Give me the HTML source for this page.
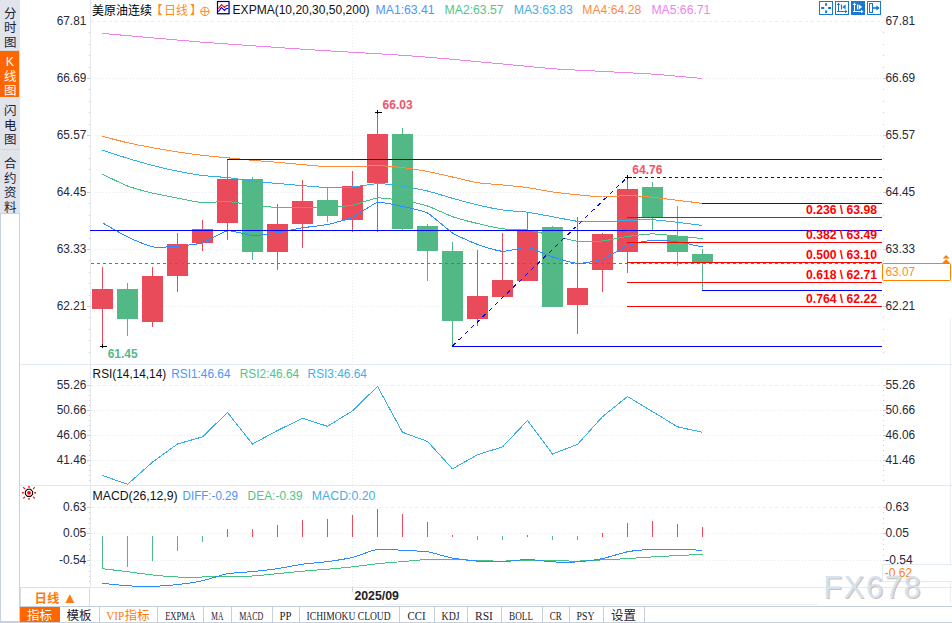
<!DOCTYPE html><html lang="zh"><head><meta charset="utf-8"><title>美原油连续 日线</title><style>
html,body{margin:0;padding:0;background:#fff}
body{width:952px;height:623px;position:relative;overflow:hidden;font-family:"Liberation Sans","Noto Sans CJK SC",sans-serif}
.sb{position:absolute;left:0;top:0;width:20px;height:213px;background:#e1e4eb}
.st{position:absolute;left:0;width:20px;font-size:12.5px;line-height:14.5px;color:#1b2234;text-align:center;box-sizing:border-box}
.st span{display:block;width:12px;margin-left:4px}
.st.on{background:#ff6600;color:#fff;width:19px}
.lb{position:absolute;left:0;top:213px;width:18px;height:407px;border:1px solid #c9d3df;background:#fff}
.tabs{position:absolute;left:20px;top:606px;height:15px;width:932px;border-top:1px solid #c5cfdb;border-bottom:1px solid #bcc4cf}
.tab{position:absolute;top:0;height:15px;border-right:1px solid #c5cfdb;font-size:12.5px;line-height:18px;text-align:center;color:#1b2234;box-sizing:border-box;white-space:nowrap;overflow:hidden}
.tab i{font-style:normal;font-size:11.5px;color:#1b2234;font-family:"Liberation Serif","Noto Sans CJK SC",serif;display:inline-block;transform-origin:center;position:relative;top:-0.5px}
.per{position:absolute;left:20px;top:587px;width:70px;height:19px;border:1px solid #d5dde7;border-bottom:none;box-sizing:border-box;background:#fff;color:#ff7a0a;font-weight:bold;font-size:12.4px;line-height:23px}

</style></head><body>
<svg width="952" height="623" viewBox="0 0 952 623" style="position:absolute;left:0;top:0">
<g shape-rendering="crispEdges">
<rect x="90" y="0" width="1" height="587" fill="#e4e9ef"/>
<rect x="950" y="318" width="1" height="285" fill="#e9eef4"/>
<rect x="20" y="364" width="932" height="1" fill="#e3e9f1"/>
<rect x="20" y="485" width="932" height="1" fill="#e3e9f1"/>
<rect x="20" y="587" width="932" height="1" fill="#e3e9f1"/>
<line x1="91" y1="21.5" x2="882" y2="21.5" stroke="#e9edf2" stroke-width="1" stroke-dasharray="3 3"/>
<line x1="91" y1="78.5" x2="882" y2="78.5" stroke="#e6eaf0" stroke-width="1" stroke-dasharray="1 2"/>
<line x1="91" y1="135.5" x2="882" y2="135.5" stroke="#e6eaf0" stroke-width="1" stroke-dasharray="1 2"/>
<line x1="91" y1="192.5" x2="882" y2="192.5" stroke="#e6eaf0" stroke-width="1" stroke-dasharray="1 2"/>
<line x1="91" y1="249.5" x2="882" y2="249.5" stroke="#e6eaf0" stroke-width="1" stroke-dasharray="1 2"/>
<line x1="91" y1="306.5" x2="882" y2="306.5" stroke="#e6eaf0" stroke-width="1" stroke-dasharray="1 2"/>
<line x1="91" y1="385.5" x2="882" y2="385.5" stroke="#e9edf2" stroke-width="1" stroke-dasharray="3 3"/>
<line x1="91" y1="410.5" x2="882" y2="410.5" stroke="#e6eaf0" stroke-width="1" stroke-dasharray="1 2"/>
<line x1="91" y1="435.5" x2="882" y2="435.5" stroke="#e6eaf0" stroke-width="1" stroke-dasharray="1 2"/>
<line x1="91" y1="460.5" x2="882" y2="460.5" stroke="#e6eaf0" stroke-width="1" stroke-dasharray="1 2"/>
<line x1="91" y1="507.5" x2="882" y2="507.5" stroke="#e9edf2" stroke-width="1" stroke-dasharray="3 3"/>
<line x1="91" y1="533.5" x2="882" y2="533.5" stroke="#e6eaf0" stroke-width="1" stroke-dasharray="1 2"/>
<line x1="91" y1="560.5" x2="882" y2="560.5" stroke="#e6eaf0" stroke-width="1" stroke-dasharray="1 2"/>
<line x1="352.5" y1="22" x2="352.5" y2="587" stroke="#eaeef3" stroke-width="1" stroke-dasharray="1 2"/>
<rect x="352" y="587" width="1" height="5" fill="#c9d2de"/>
<rect x="89" y="32" width="1" height="1" fill="#c4ccd7"/>
<rect x="883" y="32" width="1" height="1" fill="#c4ccd7"/>
<rect x="89" y="44" width="1" height="1" fill="#c4ccd7"/>
<rect x="883" y="44" width="1" height="1" fill="#c4ccd7"/>
<rect x="89" y="55" width="1" height="1" fill="#c4ccd7"/>
<rect x="883" y="55" width="1" height="1" fill="#c4ccd7"/>
<rect x="89" y="67" width="1" height="1" fill="#c4ccd7"/>
<rect x="883" y="67" width="1" height="1" fill="#c4ccd7"/>
<rect x="87" y="78" width="3" height="1" fill="#c4ccd7"/>
<rect x="883" y="78" width="3" height="1" fill="#c4ccd7"/>
<rect x="89" y="89" width="1" height="1" fill="#c4ccd7"/>
<rect x="883" y="89" width="1" height="1" fill="#c4ccd7"/>
<rect x="89" y="101" width="1" height="1" fill="#c4ccd7"/>
<rect x="883" y="101" width="1" height="1" fill="#c4ccd7"/>
<rect x="89" y="112" width="1" height="1" fill="#c4ccd7"/>
<rect x="883" y="112" width="1" height="1" fill="#c4ccd7"/>
<rect x="89" y="124" width="1" height="1" fill="#c4ccd7"/>
<rect x="883" y="124" width="1" height="1" fill="#c4ccd7"/>
<rect x="87" y="135" width="3" height="1" fill="#c4ccd7"/>
<rect x="883" y="135" width="3" height="1" fill="#c4ccd7"/>
<rect x="89" y="146" width="1" height="1" fill="#c4ccd7"/>
<rect x="883" y="146" width="1" height="1" fill="#c4ccd7"/>
<rect x="89" y="158" width="1" height="1" fill="#c4ccd7"/>
<rect x="883" y="158" width="1" height="1" fill="#c4ccd7"/>
<rect x="89" y="169" width="1" height="1" fill="#c4ccd7"/>
<rect x="883" y="169" width="1" height="1" fill="#c4ccd7"/>
<rect x="89" y="181" width="1" height="1" fill="#c4ccd7"/>
<rect x="883" y="181" width="1" height="1" fill="#c4ccd7"/>
<rect x="87" y="192" width="3" height="1" fill="#c4ccd7"/>
<rect x="883" y="192" width="3" height="1" fill="#c4ccd7"/>
<rect x="89" y="203" width="1" height="1" fill="#c4ccd7"/>
<rect x="883" y="203" width="1" height="1" fill="#c4ccd7"/>
<rect x="89" y="215" width="1" height="1" fill="#c4ccd7"/>
<rect x="883" y="215" width="1" height="1" fill="#c4ccd7"/>
<rect x="89" y="226" width="1" height="1" fill="#c4ccd7"/>
<rect x="883" y="226" width="1" height="1" fill="#c4ccd7"/>
<rect x="89" y="238" width="1" height="1" fill="#c4ccd7"/>
<rect x="883" y="238" width="1" height="1" fill="#c4ccd7"/>
<rect x="87" y="249" width="3" height="1" fill="#c4ccd7"/>
<rect x="883" y="249" width="3" height="1" fill="#c4ccd7"/>
<rect x="89" y="260" width="1" height="1" fill="#c4ccd7"/>
<rect x="883" y="260" width="1" height="1" fill="#c4ccd7"/>
<rect x="89" y="272" width="1" height="1" fill="#c4ccd7"/>
<rect x="883" y="272" width="1" height="1" fill="#c4ccd7"/>
<rect x="89" y="283" width="1" height="1" fill="#c4ccd7"/>
<rect x="883" y="283" width="1" height="1" fill="#c4ccd7"/>
<rect x="89" y="295" width="1" height="1" fill="#c4ccd7"/>
<rect x="883" y="295" width="1" height="1" fill="#c4ccd7"/>
<rect x="87" y="306" width="3" height="1" fill="#c4ccd7"/>
<rect x="883" y="306" width="3" height="1" fill="#c4ccd7"/>
<rect x="89" y="317" width="1" height="1" fill="#c4ccd7"/>
<rect x="883" y="317" width="1" height="1" fill="#c4ccd7"/>
<rect x="89" y="329" width="1" height="1" fill="#c4ccd7"/>
<rect x="883" y="329" width="1" height="1" fill="#c4ccd7"/>
<rect x="89" y="340" width="1" height="1" fill="#c4ccd7"/>
<rect x="883" y="340" width="1" height="1" fill="#c4ccd7"/>
<rect x="89" y="352" width="1" height="1" fill="#c4ccd7"/>
<rect x="883" y="352" width="1" height="1" fill="#c4ccd7"/>
<rect x="87" y="385" width="3" height="1" fill="#c4ccd7"/>
<rect x="883" y="385" width="3" height="1" fill="#c4ccd7"/>
<rect x="89" y="390" width="1" height="1" fill="#c4ccd7"/>
<rect x="883" y="390" width="1" height="1" fill="#c4ccd7"/>
<rect x="89" y="395" width="1" height="1" fill="#c4ccd7"/>
<rect x="883" y="395" width="1" height="1" fill="#c4ccd7"/>
<rect x="89" y="400" width="1" height="1" fill="#c4ccd7"/>
<rect x="883" y="400" width="1" height="1" fill="#c4ccd7"/>
<rect x="89" y="405" width="1" height="1" fill="#c4ccd7"/>
<rect x="883" y="405" width="1" height="1" fill="#c4ccd7"/>
<rect x="87" y="410" width="3" height="1" fill="#c4ccd7"/>
<rect x="883" y="410" width="3" height="1" fill="#c4ccd7"/>
<rect x="89" y="415" width="1" height="1" fill="#c4ccd7"/>
<rect x="883" y="415" width="1" height="1" fill="#c4ccd7"/>
<rect x="89" y="420" width="1" height="1" fill="#c4ccd7"/>
<rect x="883" y="420" width="1" height="1" fill="#c4ccd7"/>
<rect x="89" y="425" width="1" height="1" fill="#c4ccd7"/>
<rect x="883" y="425" width="1" height="1" fill="#c4ccd7"/>
<rect x="89" y="430" width="1" height="1" fill="#c4ccd7"/>
<rect x="883" y="430" width="1" height="1" fill="#c4ccd7"/>
<rect x="87" y="435" width="3" height="1" fill="#c4ccd7"/>
<rect x="883" y="435" width="3" height="1" fill="#c4ccd7"/>
<rect x="89" y="440" width="1" height="1" fill="#c4ccd7"/>
<rect x="883" y="440" width="1" height="1" fill="#c4ccd7"/>
<rect x="89" y="445" width="1" height="1" fill="#c4ccd7"/>
<rect x="883" y="445" width="1" height="1" fill="#c4ccd7"/>
<rect x="89" y="450" width="1" height="1" fill="#c4ccd7"/>
<rect x="883" y="450" width="1" height="1" fill="#c4ccd7"/>
<rect x="89" y="455" width="1" height="1" fill="#c4ccd7"/>
<rect x="883" y="455" width="1" height="1" fill="#c4ccd7"/>
<rect x="87" y="460" width="3" height="1" fill="#c4ccd7"/>
<rect x="883" y="460" width="3" height="1" fill="#c4ccd7"/>
<rect x="89" y="465" width="1" height="1" fill="#c4ccd7"/>
<rect x="883" y="465" width="1" height="1" fill="#c4ccd7"/>
<rect x="89" y="470" width="1" height="1" fill="#c4ccd7"/>
<rect x="883" y="470" width="1" height="1" fill="#c4ccd7"/>
<rect x="89" y="475" width="1" height="1" fill="#c4ccd7"/>
<rect x="883" y="475" width="1" height="1" fill="#c4ccd7"/>
<rect x="89" y="480" width="1" height="1" fill="#c4ccd7"/>
<rect x="883" y="480" width="1" height="1" fill="#c4ccd7"/>
<rect x="87" y="507" width="3" height="1" fill="#c4ccd7"/>
<rect x="883" y="507" width="3" height="1" fill="#c4ccd7"/>
<rect x="89" y="512" width="1" height="1" fill="#c4ccd7"/>
<rect x="883" y="512" width="1" height="1" fill="#c4ccd7"/>
<rect x="89" y="518" width="1" height="1" fill="#c4ccd7"/>
<rect x="883" y="518" width="1" height="1" fill="#c4ccd7"/>
<rect x="89" y="523" width="1" height="1" fill="#c4ccd7"/>
<rect x="883" y="523" width="1" height="1" fill="#c4ccd7"/>
<rect x="89" y="528" width="1" height="1" fill="#c4ccd7"/>
<rect x="883" y="528" width="1" height="1" fill="#c4ccd7"/>
<rect x="87" y="533" width="3" height="1" fill="#c4ccd7"/>
<rect x="883" y="533" width="3" height="1" fill="#c4ccd7"/>
<rect x="89" y="539" width="1" height="1" fill="#c4ccd7"/>
<rect x="883" y="539" width="1" height="1" fill="#c4ccd7"/>
<rect x="89" y="544" width="1" height="1" fill="#c4ccd7"/>
<rect x="883" y="544" width="1" height="1" fill="#c4ccd7"/>
<rect x="89" y="549" width="1" height="1" fill="#c4ccd7"/>
<rect x="883" y="549" width="1" height="1" fill="#c4ccd7"/>
<rect x="89" y="555" width="1" height="1" fill="#c4ccd7"/>
<rect x="883" y="555" width="1" height="1" fill="#c4ccd7"/>
<rect x="87" y="560" width="3" height="1" fill="#c4ccd7"/>
<rect x="883" y="560" width="3" height="1" fill="#c4ccd7"/>
<rect x="89" y="565" width="1" height="1" fill="#c4ccd7"/>
<rect x="883" y="565" width="1" height="1" fill="#c4ccd7"/>
<rect x="89" y="571" width="1" height="1" fill="#c4ccd7"/>
<rect x="883" y="571" width="1" height="1" fill="#c4ccd7"/>
<rect x="89" y="576" width="1" height="1" fill="#c4ccd7"/>
<rect x="883" y="576" width="1" height="1" fill="#c4ccd7"/>
<rect x="89" y="581" width="1" height="1" fill="#c4ccd7"/>
<rect x="883" y="581" width="1" height="1" fill="#c4ccd7"/>
</g>
<g shape-rendering="crispEdges">
<rect x="102" y="267" width="1" height="79" fill="#e94b5b"/>
<rect x="92" y="289" width="21" height="20" fill="#e94b5b"/>
<rect x="127" y="283" width="1" height="53" fill="#52b886"/>
<rect x="117" y="289" width="21" height="30" fill="#52b886"/>
<rect x="152" y="267" width="1" height="60" fill="#e94b5b"/>
<rect x="142" y="276" width="21" height="46" fill="#e94b5b"/>
<rect x="177" y="233" width="1" height="59" fill="#e94b5b"/>
<rect x="167" y="244" width="21" height="32" fill="#e94b5b"/>
<rect x="202" y="220" width="1" height="31" fill="#e94b5b"/>
<rect x="192" y="229" width="21" height="14" fill="#e94b5b"/>
<rect x="227" y="160" width="1" height="80" fill="#e94b5b"/>
<rect x="217" y="179" width="21" height="44" fill="#e94b5b"/>
<rect x="252" y="177" width="1" height="83" fill="#52b886"/>
<rect x="242" y="179" width="21" height="73" fill="#52b886"/>
<rect x="277" y="204" width="1" height="66" fill="#e94b5b"/>
<rect x="267" y="224" width="21" height="28" fill="#e94b5b"/>
<rect x="302" y="180" width="1" height="68" fill="#e94b5b"/>
<rect x="292" y="201" width="21" height="23" fill="#e94b5b"/>
<rect x="327" y="188" width="1" height="34" fill="#52b886"/>
<rect x="317" y="200" width="21" height="16" fill="#52b886"/>
<rect x="352" y="171" width="1" height="61" fill="#e94b5b"/>
<rect x="342" y="186" width="21" height="34" fill="#e94b5b"/>
<rect x="377" y="112" width="1" height="120" fill="#e94b5b"/>
<rect x="367" y="134" width="21" height="49" fill="#e94b5b"/>
<rect x="402" y="128" width="1" height="102" fill="#52b886"/>
<rect x="392" y="134" width="21" height="95" fill="#52b886"/>
<rect x="427" y="224" width="1" height="57" fill="#52b886"/>
<rect x="417" y="226" width="21" height="25" fill="#52b886"/>
<rect x="452" y="242" width="1" height="104" fill="#52b886"/>
<rect x="442" y="251" width="21" height="70" fill="#52b886"/>
<rect x="477" y="250" width="1" height="76" fill="#e94b5b"/>
<rect x="467" y="296" width="21" height="23" fill="#e94b5b"/>
<rect x="502" y="233" width="1" height="64" fill="#e94b5b"/>
<rect x="492" y="280" width="21" height="17" fill="#e94b5b"/>
<rect x="527" y="212" width="1" height="69" fill="#e94b5b"/>
<rect x="517" y="230" width="21" height="51" fill="#e94b5b"/>
<rect x="552" y="226" width="1" height="81" fill="#52b886"/>
<rect x="542" y="227" width="21" height="80" fill="#52b886"/>
<rect x="577" y="217" width="1" height="117" fill="#e94b5b"/>
<rect x="567" y="288" width="21" height="17" fill="#e94b5b"/>
<rect x="602" y="233" width="1" height="59" fill="#e94b5b"/>
<rect x="592" y="234" width="21" height="36" fill="#e94b5b"/>
<rect x="627" y="177" width="1" height="96" fill="#e94b5b"/>
<rect x="617" y="189" width="21" height="63" fill="#e94b5b"/>
<rect x="652" y="182" width="1" height="49" fill="#52b886"/>
<rect x="642" y="187" width="21" height="31" fill="#52b886"/>
<rect x="677" y="206" width="1" height="60" fill="#52b886"/>
<rect x="667" y="236" width="21" height="16" fill="#52b886"/>
<rect x="702" y="249" width="1" height="41" fill="#52b886"/>
<rect x="692" y="254" width="21" height="8" fill="#52b886"/>
</g>
<g shape-rendering="crispEdges" stroke-linejoin="round">
<path d="M102.5 33.4 C111.5 34.2 184.5 40.8 202.5 42.2 C220.5 43.6 289.0 48.3 302.5 49.2 C316.0 50.1 343.5 51.8 352.5 52.3 C361.5 52.8 393.5 54.7 402.5 55.3 C411.5 55.9 443.5 58.5 452.5 59.3 C461.5 60.1 493.5 63.2 502.5 64.0 C511.5 64.8 543.5 68.0 552.5 68.7 C561.5 69.4 593.5 70.9 602.5 71.4 C611.5 71.9 643.5 73.5 652.5 74.1 C661.5 74.7 698.0 78.1 702.5 78.5" fill="none" stroke="#ee82e6" stroke-width="1"/>
<path d="M102.5 136.4 C104.8 137.0 123.0 141.7 127.5 142.7 C132.0 143.7 148.0 146.9 152.5 147.7 C157.0 148.5 173.0 151.3 177.5 152.0 C182.0 152.7 198.0 154.8 202.5 155.3 C207.0 155.8 223.0 157.4 227.5 157.8 C232.0 158.2 248.0 159.9 252.5 160.3 C257.0 160.7 273.0 161.9 277.5 162.3 C282.0 162.7 298.0 164.2 302.5 164.6 C307.0 165.0 323.0 166.5 327.5 166.7 C332.0 166.9 348.0 166.9 352.5 166.8 C357.0 166.7 373.0 165.6 377.5 165.7 C382.0 165.8 398.0 167.1 402.5 167.6 C407.0 168.1 423.0 170.7 427.5 171.5 C432.0 172.3 448.0 176.0 452.5 177.0 C457.0 178.0 473.0 182.0 477.5 182.7 C482.0 183.4 498.0 184.6 502.5 185.0 C507.0 185.4 523.0 187.0 527.5 187.6 C532.0 188.2 548.0 191.4 552.5 192.0 C557.0 192.6 573.0 194.4 577.5 194.8 C582.0 195.2 598.0 196.9 602.5 197.0 C607.0 197.1 623.0 195.5 627.5 195.5 C632.0 195.5 648.0 196.9 652.5 197.3 C657.0 197.7 673.0 199.8 677.5 200.3 C682.0 200.8 700.2 203.1 702.5 203.4" fill="none" stroke="#ff8c3a" stroke-width="1"/>
<path d="M102.5 150.2 C104.8 150.9 123.0 156.9 127.5 158.3 C132.0 159.7 148.0 164.2 152.5 165.4 C157.0 166.6 173.0 170.3 177.5 171.2 C182.0 172.1 198.0 174.9 202.5 175.5 C207.0 176.1 223.0 177.1 227.5 177.6 C232.0 178.1 248.0 180.5 252.5 181.0 C257.0 181.5 273.0 183.1 277.5 183.5 C282.0 183.9 298.0 185.2 302.5 185.6 C307.0 186.0 323.0 187.4 327.5 187.5 C332.0 187.6 348.0 187.3 352.5 187.0 C357.0 186.7 373.0 183.8 377.5 183.7 C382.0 183.6 398.0 185.5 402.5 186.2 C407.0 186.9 423.0 189.9 427.5 191.0 C432.0 192.1 448.0 197.0 452.5 198.3 C457.0 199.6 473.0 203.8 477.5 204.9 C482.0 206.0 498.0 209.3 502.5 210.0 C507.0 210.7 523.0 211.6 527.5 212.2 C532.0 212.8 548.0 215.9 552.5 216.7 C557.0 217.5 573.0 220.8 577.5 221.3 C582.0 221.8 598.0 221.9 602.5 221.8 C607.0 221.7 623.0 220.7 627.5 220.5 C632.0 220.3 648.0 219.5 652.5 219.7 C657.0 219.9 673.0 221.8 677.5 222.3 C682.0 222.8 700.2 225.2 702.5 225.5" fill="none" stroke="#35aee8" stroke-width="1"/>
<path d="M102.5 174.2 C104.8 175.3 123.0 184.3 127.5 186.0 C132.0 187.7 148.0 192.0 152.5 193.1 C157.0 194.2 173.0 197.2 177.5 198.1 C182.0 199.0 198.0 202.4 202.5 202.7 C207.0 203.0 223.0 201.2 227.5 201.4 C232.0 201.6 248.0 204.8 252.5 205.3 C257.0 205.8 273.0 207.2 277.5 207.4 C282.0 207.6 298.0 207.0 302.5 207.0 C307.0 207.0 323.0 207.5 327.5 207.3 C332.0 207.1 348.0 206.0 352.5 205.2 C357.0 204.4 373.0 198.4 377.5 198.0 C382.0 197.6 398.0 199.9 402.5 200.6 C407.0 201.3 423.0 204.6 427.5 206.0 C432.0 207.4 448.0 215.1 452.5 216.7 C457.0 218.3 473.0 222.4 477.5 223.5 C482.0 224.6 498.0 228.2 502.5 228.8 C507.0 229.4 523.0 229.4 527.5 230.0 C532.0 230.6 548.0 234.6 552.5 235.6 C557.0 236.6 573.0 240.7 577.5 241.2 C582.0 241.7 598.0 241.4 602.5 241.0 C607.0 240.6 623.0 237.0 627.5 236.4 C632.0 235.8 648.0 233.9 652.5 233.9 C657.0 233.9 673.0 235.7 677.5 236.1 C682.0 236.5 700.2 238.4 702.5 238.6" fill="none" stroke="#45c184" stroke-width="1"/>
<path d="M102.5 222.8 C104.8 224.1 123.0 234.7 127.5 236.9 C132.0 239.1 148.0 246.0 152.5 246.8 C157.0 247.6 173.0 246.6 177.5 246.2 C182.0 245.8 198.0 244.2 202.5 242.8 C207.0 241.4 223.0 231.5 227.5 230.8 C232.0 230.1 248.0 235.3 252.5 235.5 C257.0 235.7 273.0 233.5 277.5 232.8 C282.0 232.1 298.0 228.5 302.5 227.8 C307.0 227.1 323.0 225.4 327.5 224.5 C332.0 223.6 348.0 219.3 352.5 217.3 C357.0 215.3 373.0 203.5 377.5 202.5 C382.0 201.5 398.0 205.6 402.5 206.5 C407.0 207.4 423.0 210.6 427.5 213.0 C432.0 215.4 448.0 230.2 452.5 233.0 C457.0 235.8 473.0 242.8 477.5 244.4 C482.0 246.0 498.0 251.0 502.5 251.3 C507.0 251.6 523.0 247.0 527.5 247.5 C532.0 248.0 548.0 255.6 552.5 257.0 C557.0 258.4 573.0 263.2 577.5 263.4 C582.0 263.6 598.0 260.8 602.5 259.2 C607.0 257.6 623.0 247.2 627.5 245.5 C632.0 243.8 648.0 240.5 652.5 240.2 C657.0 239.9 673.0 241.3 677.5 241.9 C682.0 242.5 700.2 246.5 702.5 247.0" fill="none" stroke="#2b8cff" stroke-width="1"/>
</g>
<g shape-rendering="crispEdges">
<rect x="227" y="159" width="655" height="1" fill="#0000ff"/>
<rect x="90" y="230" width="792" height="1" fill="#0000ff"/>
<rect x="452" y="346" width="430" height="1" fill="#0000ff"/>
<rect x="702" y="203" width="180" height="1" fill="#0000ff"/>
<rect x="702" y="290" width="180" height="1" fill="#0000ff"/>
<line x1="627" y1="177.5" x2="882" y2="177.5" stroke="#0000ff" stroke-width="1" stroke-dasharray="3 3"/>
<line x1="91" y1="263.5" x2="882" y2="263.5" stroke="#1485f5" stroke-width="1" stroke-dasharray="3 3"/>
<rect x="627" y="217" width="255" height="1" fill="#ff0000"/>
<rect x="627" y="242" width="255" height="1" fill="#ff0000"/>
<rect x="627" y="262" width="255" height="1" fill="#ff0000"/>
<rect x="627" y="282" width="255" height="1" fill="#ff0000"/>
<rect x="627" y="306" width="255" height="1" fill="#ff0000"/>
</g>
<line x1="452.5" y1="346" x2="627.5" y2="177" stroke="#0000ff" stroke-width="1" stroke-dasharray="4.2 4.2" shape-rendering="crispEdges"/>
<g shape-rendering="crispEdges"><rect x="375" y="112" width="7" height="1" fill="#000"/><rect x="377" y="110" width="1" height="4" fill="#000"/></g>
<g shape-rendering="crispEdges"><rect x="625" y="177" width="7" height="1" fill="#000"/><rect x="627" y="175" width="1" height="4" fill="#000"/></g>
<g shape-rendering="crispEdges"><rect x="100" y="346" width="7" height="1" fill="#000"/><rect x="102" y="344" width="1" height="4" fill="#000"/></g>
<g shape-rendering="crispEdges">
<polyline points="102.5,475.5 127.5,484.3 152.5,462.1 177.5,444.0 202.5,436.9 227.5,412.5 252.5,444.0 277.5,430.5 302.5,418.2 327.5,426.3 352.5,410.9 377.5,386.4 402.5,432.3 427.5,441.4 452.5,468.9 477.5,454.7 502.5,446.9 527.5,420.5 552.5,454.0 577.5,444.4 602.5,416.7 627.5,396.5 652.5,411.6 677.5,426.8 702.5,432.3" fill="none" stroke="#35aee8" stroke-width="1"/>
<rect x="102" y="536" width="1" height="33" fill="#52b886"/>
<rect x="127" y="536" width="1" height="31" fill="#52b886"/>
<rect x="152" y="536" width="1" height="25" fill="#52b886"/>
<rect x="177" y="536" width="1" height="15" fill="#52b886"/>
<rect x="202" y="536" width="1" height="6" fill="#52b886"/>
<rect x="227" y="529" width="1" height="8" fill="#e94b5b"/>
<rect x="252" y="529" width="1" height="8" fill="#e94b5b"/>
<rect x="277" y="525" width="1" height="12" fill="#e94b5b"/>
<rect x="302" y="520" width="1" height="17" fill="#e94b5b"/>
<rect x="327" y="519" width="1" height="18" fill="#e94b5b"/>
<rect x="352" y="515" width="1" height="22" fill="#e94b5b"/>
<rect x="377" y="509" width="1" height="28" fill="#e94b5b"/>
<rect x="402" y="514" width="1" height="23" fill="#e94b5b"/>
<rect x="427" y="522" width="1" height="15" fill="#e94b5b"/>
<rect x="452" y="535" width="1" height="2" fill="#e94b5b"/>
<rect x="477" y="536" width="1" height="4" fill="#52b886"/>
<rect x="502" y="536" width="1" height="4" fill="#52b886"/>
<rect x="527" y="535" width="1" height="2" fill="#e94b5b"/>
<rect x="552" y="536" width="1" height="4" fill="#52b886"/>
<rect x="577" y="536" width="1" height="4" fill="#52b886"/>
<rect x="602" y="533" width="1" height="4" fill="#e94b5b"/>
<rect x="627" y="523" width="1" height="14" fill="#e94b5b"/>
<rect x="652" y="521" width="1" height="16" fill="#e94b5b"/>
<rect x="677" y="524" width="1" height="13" fill="#e94b5b"/>
<rect x="702" y="527" width="1" height="10" fill="#e94b5b"/>
<path d="M102.5 568.7 C104.8 569.0 123.0 571.1 127.5 571.7 C132.0 572.3 148.0 574.5 152.5 575.0 C157.0 575.5 173.0 576.8 177.5 577.0 C182.0 577.2 198.0 577.1 202.5 577.0 C207.0 576.9 223.0 576.4 227.5 576.3 C232.0 576.2 248.0 576.2 252.5 576.0 C257.0 575.8 273.0 574.1 277.5 573.7 C282.0 573.3 298.0 571.6 302.5 571.2 C307.0 570.8 323.0 569.6 327.5 569.2 C332.0 568.8 348.0 567.4 352.5 566.9 C357.0 566.4 373.0 564.2 377.5 563.7 C382.0 563.2 398.0 562.0 402.5 561.6 C407.0 561.2 423.0 559.6 427.5 559.4 C432.0 559.2 448.0 559.0 452.5 559.1 C457.0 559.2 473.0 560.4 477.5 560.6 C482.0 560.8 498.0 561.1 502.5 561.1 C507.0 561.1 523.0 560.1 527.5 560.1 C532.0 560.1 548.0 560.5 552.5 560.6 C557.0 560.7 573.0 561.2 577.5 561.1 C582.0 561.0 598.0 560.1 602.5 559.9 C607.0 559.7 623.0 558.9 627.5 558.6 C632.0 558.3 648.0 557.2 652.5 556.9 C657.0 556.6 673.0 555.8 677.5 555.6 C682.0 555.4 700.2 554.4 702.5 554.3" fill="none" stroke="#45c184" stroke-width="1"/>
<path d="M102.5 583.3 C104.8 583.5 123.0 585.5 127.5 585.8 C132.0 586.1 148.0 586.5 152.5 586.4 C157.0 586.3 173.0 585.1 177.5 584.6 C182.0 584.1 198.0 581.8 202.5 580.8 C207.0 579.8 223.0 574.5 227.5 573.7 C232.0 572.9 248.0 572.1 252.5 571.6 C257.0 571.1 273.0 569.4 277.5 568.7 C282.0 568.0 298.0 564.8 302.5 564.2 C307.0 563.6 323.0 562.2 327.5 561.6 C332.0 561.0 348.0 558.5 352.5 557.4 C357.0 556.3 373.0 549.9 377.5 549.3 C382.0 548.7 398.0 550.1 402.5 550.3 C407.0 550.5 423.0 551.1 427.5 551.8 C432.0 552.5 448.0 557.3 452.5 558.1 C457.0 558.9 473.0 560.8 477.5 561.1 C482.0 561.4 498.0 562.1 502.5 561.9 C507.0 561.7 523.0 559.4 527.5 559.4 C532.0 559.4 548.0 561.7 552.5 561.9 C557.0 562.1 573.0 562.2 577.5 561.9 C582.0 561.6 598.0 559.5 602.5 558.6 C607.0 557.7 623.0 552.6 627.5 551.8 C632.0 551.0 648.0 549.5 652.5 549.3 C657.0 549.1 673.0 549.2 677.5 549.3 C682.0 549.4 700.2 550.2 702.5 550.3" fill="none" stroke="#2b8cff" stroke-width="1"/>
</g>
<g font-family="Liberation Sans, Noto Sans CJK SC, sans-serif">
<text x="86.3" y="25" fill="#262a3a" font-size="12" text-anchor="end" font-weight="normal" textLength="29.6" lengthAdjust="spacingAndGlyphs">67.81</text>
<text x="885.5" y="25" fill="#262a3a" font-size="12" text-anchor="start" font-weight="normal" textLength="29.6" lengthAdjust="spacingAndGlyphs">67.81</text>
<text x="86.3" y="82" fill="#262a3a" font-size="12" text-anchor="end" font-weight="normal" textLength="29.6" lengthAdjust="spacingAndGlyphs">66.69</text>
<text x="885.5" y="82" fill="#262a3a" font-size="12" text-anchor="start" font-weight="normal" textLength="29.6" lengthAdjust="spacingAndGlyphs">66.69</text>
<text x="86.3" y="139" fill="#262a3a" font-size="12" text-anchor="end" font-weight="normal" textLength="29.6" lengthAdjust="spacingAndGlyphs">65.57</text>
<text x="885.5" y="139" fill="#262a3a" font-size="12" text-anchor="start" font-weight="normal" textLength="29.6" lengthAdjust="spacingAndGlyphs">65.57</text>
<text x="86.3" y="196" fill="#262a3a" font-size="12" text-anchor="end" font-weight="normal" textLength="29.6" lengthAdjust="spacingAndGlyphs">64.45</text>
<text x="885.5" y="196" fill="#262a3a" font-size="12" text-anchor="start" font-weight="normal" textLength="29.6" lengthAdjust="spacingAndGlyphs">64.45</text>
<text x="86.3" y="253" fill="#262a3a" font-size="12" text-anchor="end" font-weight="normal" textLength="29.6" lengthAdjust="spacingAndGlyphs">63.33</text>
<text x="885.5" y="253" fill="#262a3a" font-size="12" text-anchor="start" font-weight="normal" textLength="29.6" lengthAdjust="spacingAndGlyphs">63.33</text>
<text x="86.3" y="310" fill="#262a3a" font-size="12" text-anchor="end" font-weight="normal" textLength="29.6" lengthAdjust="spacingAndGlyphs">62.21</text>
<text x="885.5" y="310" fill="#262a3a" font-size="12" text-anchor="start" font-weight="normal" textLength="29.6" lengthAdjust="spacingAndGlyphs">62.21</text>
<text x="86.3" y="389" fill="#262a3a" font-size="12" text-anchor="end" font-weight="normal" textLength="29.6" lengthAdjust="spacingAndGlyphs">55.26</text>
<text x="885.5" y="389" fill="#262a3a" font-size="12" text-anchor="start" font-weight="normal" textLength="29.6" lengthAdjust="spacingAndGlyphs">55.26</text>
<text x="86.3" y="414" fill="#262a3a" font-size="12" text-anchor="end" font-weight="normal" textLength="29.6" lengthAdjust="spacingAndGlyphs">50.66</text>
<text x="885.5" y="414" fill="#262a3a" font-size="12" text-anchor="start" font-weight="normal" textLength="29.6" lengthAdjust="spacingAndGlyphs">50.66</text>
<text x="86.3" y="439" fill="#262a3a" font-size="12" text-anchor="end" font-weight="normal" textLength="29.6" lengthAdjust="spacingAndGlyphs">46.06</text>
<text x="885.5" y="439" fill="#262a3a" font-size="12" text-anchor="start" font-weight="normal" textLength="29.6" lengthAdjust="spacingAndGlyphs">46.06</text>
<text x="86.3" y="464" fill="#262a3a" font-size="12" text-anchor="end" font-weight="normal" textLength="29.6" lengthAdjust="spacingAndGlyphs">41.46</text>
<text x="885.5" y="464" fill="#262a3a" font-size="12" text-anchor="start" font-weight="normal" textLength="29.6" lengthAdjust="spacingAndGlyphs">41.46</text>
<text x="86.3" y="511" fill="#262a3a" font-size="12" text-anchor="end" font-weight="normal">0.63</text>
<text x="885.5" y="511" fill="#262a3a" font-size="12" text-anchor="start" font-weight="normal">0.63</text>
<text x="86.3" y="537" fill="#262a3a" font-size="12" text-anchor="end" font-weight="normal">0.05</text>
<text x="885.5" y="537" fill="#262a3a" font-size="12" text-anchor="start" font-weight="normal">0.05</text>
<text x="86.3" y="564" fill="#262a3a" font-size="12" text-anchor="end" font-weight="normal">-0.54</text>
<text x="885.3" y="564" fill="#262a3a" font-size="12" text-anchor="start" font-weight="normal">-0.54</text>
<text x="92" y="15" fill="#000" font-size="12" text-anchor="start" font-weight="normal" textLength="60" lengthAdjust="spacingAndGlyphs">美原油连续</text>
<text x="150.5" y="15" fill="#ff8a1f" font-size="12" text-anchor="start" font-weight="normal">【</text>
<text x="164" y="15" fill="#ff8a1f" font-size="12" text-anchor="start" font-weight="normal" textLength="24" lengthAdjust="spacingAndGlyphs">日线</text>
<text x="190" y="15" fill="#ff8a1f" font-size="12" text-anchor="start" font-weight="normal">】</text>
<text x="232.6" y="14" fill="#111" font-size="12" text-anchor="start" font-weight="normal" textLength="137" lengthAdjust="spacingAndGlyphs">EXPMA(10,20,30,50,200)</text>
<text x="375.6" y="14" fill="#4c96f7" font-size="12" text-anchor="start" font-weight="normal" textLength="59" lengthAdjust="spacingAndGlyphs">MA1:63.41</text>
<text x="444.6" y="14" fill="#52c48a" font-size="12" text-anchor="start" font-weight="normal" textLength="59" lengthAdjust="spacingAndGlyphs">MA2:63.57</text>
<text x="513.8" y="14" fill="#3fb0e8" font-size="12" text-anchor="start" font-weight="normal" textLength="59" lengthAdjust="spacingAndGlyphs">MA3:63.83</text>
<text x="582.3" y="14" fill="#ff8a3d" font-size="12" text-anchor="start" font-weight="normal" textLength="59" lengthAdjust="spacingAndGlyphs">MA4:64.28</text>
<text x="651.4" y="14" fill="#ee82ee" font-size="12" text-anchor="start" font-weight="normal" textLength="59" lengthAdjust="spacingAndGlyphs">MA5:66.71</text>
<text x="92.6" y="378" fill="#111" font-size="12" text-anchor="start" font-weight="normal" textLength="73.6" lengthAdjust="spacingAndGlyphs">RSI(14,14,14)</text>
<text x="171.2" y="378" fill="#4c96f7" font-size="12" text-anchor="start" font-weight="normal" textLength="59.3" lengthAdjust="spacingAndGlyphs">RSI1:46.64</text>
<text x="239.8" y="378" fill="#52c48a" font-size="12" text-anchor="start" font-weight="normal" textLength="59.3" lengthAdjust="spacingAndGlyphs">RSI2:46.64</text>
<text x="307.6" y="378" fill="#3fb0e8" font-size="12" text-anchor="start" font-weight="normal" textLength="59.3" lengthAdjust="spacingAndGlyphs">RSI3:46.64</text>
<text x="92.6" y="500" fill="#111" font-size="12" text-anchor="start" font-weight="normal" textLength="85" lengthAdjust="spacingAndGlyphs">MACD(26,12,9)</text>
<text x="182.6" y="500" fill="#4c96f7" font-size="12" text-anchor="start" font-weight="normal" textLength="55.4" lengthAdjust="spacingAndGlyphs">DIFF:-0.29</text>
<text x="247.6" y="500" fill="#52c48a" font-size="12" text-anchor="start" font-weight="normal" textLength="55" lengthAdjust="spacingAndGlyphs">DEA:-0.39</text>
<text x="311.8" y="500" fill="#3fb0e8" font-size="12" text-anchor="start" font-weight="normal" textLength="63.6" lengthAdjust="spacingAndGlyphs">MACD:0.20</text>
<text x="382.6" y="109.2" fill="#ef5468" font-size="12" text-anchor="start" font-weight="bold" textLength="30" lengthAdjust="spacingAndGlyphs">66.03</text>
<text x="632.3" y="174" fill="#ef5468" font-size="12" text-anchor="start" font-weight="bold" textLength="30" lengthAdjust="spacingAndGlyphs">64.76</text>
<text x="107.7" y="358" fill="#55bb89" font-size="12" text-anchor="start" font-weight="bold" textLength="30" lengthAdjust="spacingAndGlyphs">61.45</text>
<text x="877" y="214.2" fill="#ff0000" font-size="12" text-anchor="end" font-weight="bold" textLength="71" lengthAdjust="spacingAndGlyphs">0.236 \ 63.98</text>
<text x="877" y="238.8" fill="#ff0000" font-size="12" text-anchor="end" font-weight="bold" textLength="71" lengthAdjust="spacingAndGlyphs">0.382 \ 63.49</text>
<text x="877" y="259.2" fill="#ff0000" font-size="12" text-anchor="end" font-weight="bold" textLength="71" lengthAdjust="spacingAndGlyphs">0.500 \ 63.10</text>
<text x="877" y="278.9" fill="#ff0000" font-size="12" text-anchor="end" font-weight="bold" textLength="71" lengthAdjust="spacingAndGlyphs">0.618 \ 62.71</text>
<text x="877" y="302.9" fill="#ff0000" font-size="12" text-anchor="end" font-weight="bold" textLength="71" lengthAdjust="spacingAndGlyphs">0.764 \ 62.22</text>
<text x="354.4" y="600.2" fill="#222" font-size="12" text-anchor="start" font-weight="bold" textLength="44.6" lengthAdjust="spacingAndGlyphs">2025/09</text>
<rect x="882.5" y="263.5" width="68" height="17" fill="#fff" stroke="#ff8000" stroke-width="1" rx="1"/>
<text x="885.5" y="275.8" fill="#ff8a1f" font-size="12" text-anchor="start" font-weight="normal" textLength="29.5" lengthAdjust="spacingAndGlyphs">63.07</text>
<path d="M942.6 258.6 L946.1 255 L949.6 258.6 Z M942 263.2 L946.1 259.2 L950.2 263.2 Z" fill="#ff8000"/>
<rect x="882.5" y="564.5" width="71" height="17" fill="#fff" stroke="#e4eaf2" stroke-width="1"/><rect x="385" y="604" width="433" height="1" fill="#eef1f5"/>
<text x="884.8" y="576.6" fill="#ff7f0e" font-size="12" text-anchor="start" font-weight="normal">-0.62</text>
</g>
<text x="824.2" y="598.9" font-family="Liberation Sans, sans-serif" font-size="31" fill="#bd9474" opacity="0.6" textLength="97.5" lengthAdjust="spacing">FX678</text>
<text x="823.3" y="598" font-family="Liberation Sans, sans-serif" font-size="31" fill="#d5e2f1" textLength="97.5" lengthAdjust="spacing">FX678</text>
<g fill="none" stroke="#ff8a1f" stroke-width="1"><circle cx="204.9" cy="11.4" r="4.2"/><path d="M200.7 11.4H209.1M204.9 7.2V15.6"/></g>
<g><rect x="218.5" y="2.5" width="11.6" height="12" fill="#bdbdbd"/><rect x="217.5" y="1.5" width="11.5" height="12.2" fill="#fff" stroke="#00007f" stroke-width="1.2"/><polyline points="218.3,8.6 221.5,4.6 224.5,7.4 226.3,5.5 228.4,5.5" fill="none" stroke="#ff0000" stroke-width="1.1"/><polyline points="218.3,11.6 221.5,7.6 224.5,10.4 226.3,8.5 228.4,8.5" fill="none" stroke="#0000ff" stroke-width="1.1"/></g>
<g shape-rendering="crispEdges">
<rect x="819.5" y="1.5" width="13" height="13" fill="#fff" stroke="#1976d2" stroke-width="1"/>
<rect x="835.5" y="1.5" width="13" height="13" fill="#fff" stroke="#1976d2" stroke-width="1"/>
<rect x="851.5" y="1.5" width="13" height="13" fill="#1976d2" stroke="#1976d2" stroke-width="1"/>
<rect x="867.5" y="1.5" width="13" height="13" fill="#fff" stroke="#1976d2" stroke-width="1"/>
</g>
<g fill="#1976d2"><rect x="821.2" y="7" width="3" height="2"/><rect x="828" y="7" width="3" height="2"/><rect x="825.1" y="3.2" width="2" height="2.6"/><rect x="825.1" y="10.4" width="2" height="2.6"/></g>
<g stroke="#1976d2" fill="#1976d2" stroke-width="1"><path d="M838.5 4V12M837 11.5H847" fill="none"/><path d="M838.5 2.6L840.3 5H836.7Z M847.6 11.5L845 9.8V13.2Z" stroke="none"/><path d="M841.5 4.5V9.5" fill="none" stroke-width="1.2"/><path d="M842.4 7L845.6 4.4V9.6Z" stroke="none"/></g>
<g stroke="#fff" fill="#fff" stroke-width="1"><path d="M854.5 4V12M853 11.5H863" fill="none"/><path d="M854.5 2.6L856.3 5H852.7Z M863.6 11.5L861 9.8V13.2Z" stroke="none"/><path d="M857.5 4.5V9.5" fill="none" stroke-width="1.2"/><path d="M858.6 4.2L862.2 7L858.6 9.8Z" stroke="none"/></g>
<g stroke="#1976d2" fill="none" stroke-width="1"><rect x="869.5" y="3.5" width="3" height="9" shape-rendering="crispEdges"/><path d="M872.6 8H877" stroke-width="1.6"/><path d="M876.4 5.2L879.6 8L876.4 10.8Z" fill="#1976d2" stroke="none"/></g>
<g><polygon points="27.5,489.3 30.5,489.3 32.6,491.4 32.6,494.3 30.5,496.4 27.5,496.4 25.4,494.3 25.4,491.4" fill="#fff" stroke="#000" stroke-width="1.1"/><circle cx="29" cy="492.85" r="1.9" fill="#ff0000"/><g fill="#ff0000"><rect x="28.3" y="486" width="1.4" height="1.8"/><rect x="28.3" y="498" width="1.4" height="1.8"/><rect x="22" y="492.1" width="1.8" height="1.4"/><rect x="34.2" y="492.1" width="1.8" height="1.4"/></g><g stroke="#ff0000" stroke-width="1.2" stroke-linecap="round"><path d="M23.6 487.6L24.6 488.6M34.4 487.6L33.4 488.6M23.6 498.2L24.6 497.2M34.4 498.2L33.4 497.2"/></g></g>
</svg>
<div class="sb"></div>
<div class="st" style="top:0px;height:51px;padding-top:6.9px"><span>分</span><span>时</span><span>图</span></div>
<div class="st on" style="top:51px;height:46px;padding-top:4.1px"><span>K</span><span>线</span><span>图</span></div>
<div class="st" style="top:97px;height:52px;padding-top:7.1px"><span>闪</span><span>电</span><span>图</span></div>
<div class="st" style="top:149px;height:64px;padding-top:8.1px"><span>合</span><span>约</span><span>资</span><span>料</span></div>
<div style="position:absolute;left:0;top:149px;width:20px;height:1px;background:#cfd5de"></div>
<div style="position:absolute;left:0;top:50px;width:20px;height:1px;background:#d4d9e1"></div>
<div class="lb"></div>
<div class="per"><span style="position:absolute;left:13.5px;top:0">日线</span><span style="position:absolute;left:41.5px;top:-2px;font-size:15px">▲</span></div>
<div class="tabs">
<div class="tab" style="left:0px;width:40px;background:#ff6600;color:#fff;border-right-color:#ff6600;">指标</div>
<div class="tab" style="left:39px;width:41px;">模板</div>
<div class="tab" style="left:79px;width:59px;color:#ff7a0a;"><i style="width:18.53px;margin:0 -0.26px;transform:scaleX(0.972);color:inherit">VIP</i>指标</div>
<div class="tab" style="left:137px;width:47px;"><i style="width:40.25px;margin:0 -5.12px;transform:scaleX(0.745)">EXPMA</i></div>
<div class="tab" style="left:183px;width:29px;"><i style="width:18.53px;margin:0 -3.26px;transform:scaleX(0.648)">MA</i></div>
<div class="tab" style="left:211px;width:42px;"><i style="width:34.50px;margin:0 -5.25px;transform:scaleX(0.696)">MACD</i></div>
<div class="tab" style="left:252px;width:28px;"><i style="width:12.79px;margin:0 -0.39px;transform:scaleX(0.938)">PP</i></div>
<div class="tab" style="left:279px;width:101px;"><i style="width:101.25px;margin:0 -8.62px;transform:scaleX(0.830)">ICHIMOKU CLOUD</i></div>
<div class="tab" style="left:379px;width:36px;"><i style="width:19.17px;margin:0 -0.59px;transform:scaleX(0.939)">CCI</i></div>
<div class="tab" style="left:414px;width:34px;"><i style="width:21.08px;margin:0 -1.54px;transform:scaleX(0.854)">KDJ</i></div>
<div class="tab" style="left:447px;width:35px;"><i style="width:17.89px;margin:0 0.05px;transform:scaleX(1.006)">RSI</i></div>
<div class="tab" style="left:481px;width:42px;"><i style="width:30.03px;margin:0 -3.01px;transform:scaleX(0.799)">BOLL</i></div>
<div class="tab" style="left:522px;width:28px;"><i style="width:15.34px;margin:0 -1.67px;transform:scaleX(0.782)">CR</i></div>
<div class="tab" style="left:549px;width:35px;"><i style="width:21.09px;margin:0 -1.55px;transform:scaleX(0.853)">PSY</i></div>
<div class="tab" style="left:583px;width:42px;">设置</div>
</div>
<div style="position:absolute;left:0;top:622px;width:952px;height:1px;background:#c9cfd8"></div>
</body></html>
